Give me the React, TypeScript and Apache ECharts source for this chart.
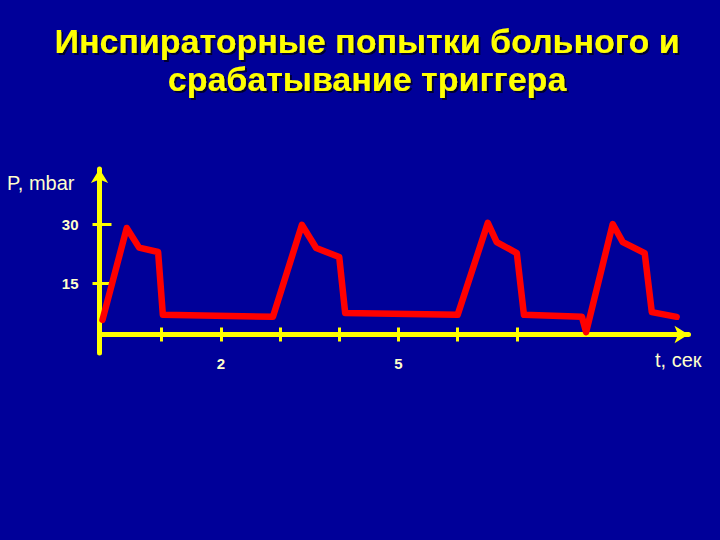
import React, { useEffect, useRef } from "react";
import * as echarts from "echarts";

const titleLines = ["Инспираторные попытки больного и", "срабатывание триггера"];
const yAxisTitle = "P, mbar";
const xAxisTitle = "t, сек";

const xTickValues = [1, 2, 3, 4, 5, 6, 7];
const xLabelValues = [2, 5];
const yTickValues = [15, 30];

// time (s)
const timeValues = [
  0, 0.41, 0.62, 0.94, 1.02, 2.88,
  3.37, 3.61, 4.0, 4.1, 6.0,
  6.51, 6.66, 7.0, 7.12, 8.1, 8.17,
  8.62, 8.79, 9.16, 9.28, 9.7,
];
// pressure (mbar)
const pressureValues = [
  5.6, 29.0, 24.0, 22.9, 6.9, 6.4,
  29.8, 23.9, 21.6, 7.4, 6.9,
  30.3, 25.4, 22.6, 6.9, 6.4, 2.5,
  30.0, 25.4, 22.6, 7.6, 6.4,
];

const BG = "#000099";
const AXIS = "#ffff00";
const LABEL = "#ffffcc";

export default function App() {
  const ref = useRef<HTMLDivElement>(null);

  useEffect(() => {
    if (!ref.current) return;
    const chart = echarts.init(ref.current, null, { renderer: "svg" });
    const data = timeValues.map((t, i) => [t, pressureValues[i]]);

    const xBase = {
      type: "value" as const,
      min: -0.05,
      max: 9.9,
      position: "bottom" as const,
      offset: -18.5,
      splitLine: { show: false },
    };
    const yBase = {
      type: "value" as const,
      min: -2.8,
      max: 44,
      position: "left" as const,
      splitLine: { show: false },
    };

    chart.setOption({
      animation: false,
      backgroundColor: BG,
      title: {
        text: titleLines.join("\n"),
        left: 362,
        top: 17,
        textAlign: "center",
        textStyle: {
          color: "#ffff00",
          fontFamily: "Liberation Sans",
          fontWeight: "bold",
          fontSize: 34,
          lineHeight: 38,
          textShadowColor: "#000033",
          textShadowOffsetX: 2,
          textShadowOffsetY: 2,
          textShadowBlur: 1,
        },
      },
      grid: { left: 99.5, top: 169, width: 589, height: 184 },
      xAxis: [
        {
          ...xBase,
          axisLine: {
            show: true,
            onZero: false,
            symbol: ["none", "arrow"],
            symbolSize: [13, 14],
            lineStyle: { color: AXIS, width: 5 },
          },
          axisTick: {
            show: true,
            customValues: xTickValues,
            length: 7,
            lineStyle: { color: AXIS, width: 3 },
          },
          axisLabel: {
            show: true,
            customValues: xLabelValues,
            margin: 21,
            color: LABEL,
            fontFamily: "Liberation Sans",
            fontWeight: "bold",
            fontSize: 15,
          },
        },
        {
          ...xBase,
          axisLine: { show: false, onZero: false },
          axisTick: {
            show: true,
            inside: true,
            customValues: xTickValues,
            length: 7,
            lineStyle: { color: AXIS, width: 3 },
          },
          axisLabel: { show: false },
        },
      ],
      yAxis: [
        {
          ...yBase,
          axisLine: {
            show: true,
            onZero: false,
            symbol: ["none", "arrow"],
            symbolSize: [13, 14],
            lineStyle: { color: AXIS, width: 5 },
          },
          axisTick: {
            show: true,
            customValues: yTickValues,
            length: 7,
            lineStyle: { color: AXIS, width: 3 },
          },
          axisLabel: {
            show: true,
            customValues: yTickValues,
            margin: 21,
            color: LABEL,
            fontFamily: "Liberation Sans",
            fontWeight: "bold",
            fontSize: 15,
          },
        },
        {
          ...yBase,
          axisLine: { show: false, onZero: false },
          axisTick: {
            show: true,
            inside: true,
            customValues: yTickValues,
            length: 12,
            lineStyle: { color: AXIS, width: 3 },
          },
          axisLabel: { show: false },
        },
      ],
      series: [
        {
          type: "line",
          xAxisIndex: 0,
          yAxisIndex: 0,
          data,
          showSymbol: false,
          symbol: "none",
          lineStyle: { color: "#ff0000", width: 6.5, join: "round", cap: "round" },
          z: 1,
        },
      ],
      graphic: [
        {
          type: "text",
          left: 7,
          top: 173,
          style: {
            text: yAxisTitle,
            fill: LABEL,
            fontFamily: "Liberation Sans",
            fontSize: 20,
          },
        },
        {
          type: "text",
          left: 655,
          top: 350,
          style: {
            text: xAxisTitle,
            fill: LABEL,
            fontFamily: "Liberation Sans",
            fontSize: 20,
          },
        },
      ],
    });

    return () => chart.dispose();
  }, []);

  return (
    <div
      ref={ref}
      style={{ position: "fixed", left: 0, top: 0, width: 720, height: 540 }}
    />
  );
}
